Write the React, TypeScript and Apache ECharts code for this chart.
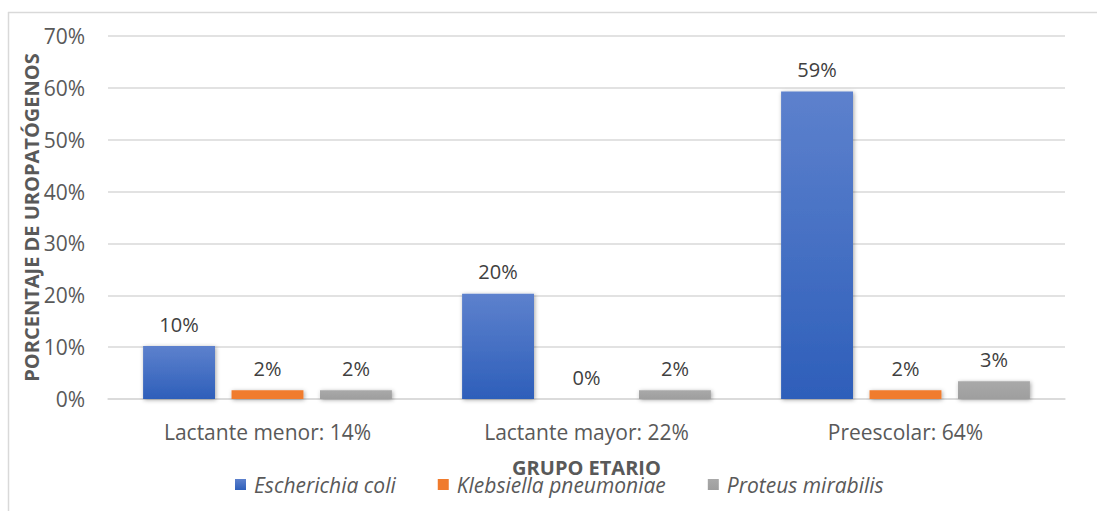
import React, { useEffect, useRef } from "react";
import * as echarts from "echarts";

const categories = ["Lactante menor: 14%", "Lactante mayor: 22%", "Preescolar: 64%"];
const seriesNames = ["Escherichia coli", "Klebsiella pneumoniae", "Proteus mirabilis"];
const ecoli = [10.2, 20.3, 59.3];
const klebsiella = [1.7, 0, 1.7];
const proteus = [1.7, 1.7, 3.4];
const yTicks = [0, 10, 20, 30, 40, 50, 60, 70];

const FONT = "Open Sans";

export default function App() {
  const ref = useRef<HTMLDivElement>(null);
  useEffect(() => {
    if (!ref.current) return;
    const chart = echarts.init(ref.current, undefined, { renderer: "svg" });
    const shadow = {
      shadowBlur: 4,
      shadowColor: "rgba(0,0,0,0.35)",
      shadowOffsetX: 1,
      shadowOffsetY: 1,
    };
    const colors = [
      new echarts.graphic.LinearGradient(0, 0, 0, 1, [
        { offset: 0, color: "#5d81cd" },
        { offset: 1, color: "#2e5fba" },
      ]),
      "#f07b2d",
      new echarts.graphic.LinearGradient(0, 0, 0, 1, [
        { offset: 0, color: "#a9a9a9" },
        { offset: 1, color: "#9e9e9e" },
      ]),
    ];
    const dataSets = [ecoli, klebsiella, proteus];
    const label = {
      show: true,
      position: "top",
      distance: 12,
      fontFamily: FONT,
      fontSize: 20,
      color: "#404040",
      formatter: (p: any) => Math.round(p.value) + "%",
    };
    chart.setOption({
      animation: false,
      textStyle: { fontFamily: FONT },
      graphic: [
        { type: "line", shape: { x1: 8, y1: 12.5, x2: 1097, y2: 12.5 }, style: { stroke: "#d9d9d9", lineWidth: 1.5 } },
        { type: "line", shape: { x1: 8.5, y1: 12, x2: 8.5, y2: 511 }, style: { stroke: "#d9d9d9", lineWidth: 1.5 } },
      ],
      grid: { left: 108, right: 32, top: 36, bottom: 112 },
      legend: {
        left: 230,
        top: 469,
        itemWidth: 11,
        itemHeight: 11,
        itemGap: 42,
        icon: "rect",
        textStyle: { fontFamily: FONT, fontSize: 21, fontStyle: "italic", color: "#595959", padding: [0, 0, 0, 3] },
        data: seriesNames,
      },
      xAxis: {
        type: "category",
        data: categories,
        name: "GRUPO ETARIO",
        nameLocation: "middle",
        nameGap: 58,
        nameMoveOverlap: false,
        nameTextStyle: { fontFamily: FONT, fontSize: 20, fontWeight: "bold", color: "#595959" },
        axisLine: { lineStyle: { color: "#d9d9d9", width: 1.5 } },
        axisTick: { show: false },
        axisLabel: { fontFamily: FONT, fontSize: 21, color: "#595959", margin: 22 },
      },
      yAxis: {
        type: "value",
        min: 0,
        max: 70,
        interval: 10,
        name: "PORCENTAJE DE UROPATÓGENOS",
        nameLocation: "middle",
        nameGap: 67,
        nameMoveOverlap: false,
        nameTextStyle: { fontFamily: FONT, fontSize: 20, fontWeight: "bold", color: "#595959" },
        axisLine: { show: false },
        axisTick: { show: false },
        splitLine: { lineStyle: { color: "#d9d9d9", width: 1.5 } },
        axisLabel: {
          fontFamily: FONT,
          fontSize: 21,
          color: "#595959",
          margin: 23,
          formatter: (v: number) => (yTicks.includes(v) ? v + "%" : ""),
        },
      },
      series: seriesNames.map((name, i) => ({
        name,
        type: "bar",
        data: dataSets[i],
        barGap: "23%",
        barCategoryGap: "22%",
        itemStyle: { color: colors[i], ...shadow },
        label,
      })),
    });
    return () => chart.dispose();
  }, []);
  return (
    <div
      ref={ref}
      style={{ position: "absolute", left: 0, top: 0, width: 1097, height: 511, background: "#fff" }}
    />
  );
}
